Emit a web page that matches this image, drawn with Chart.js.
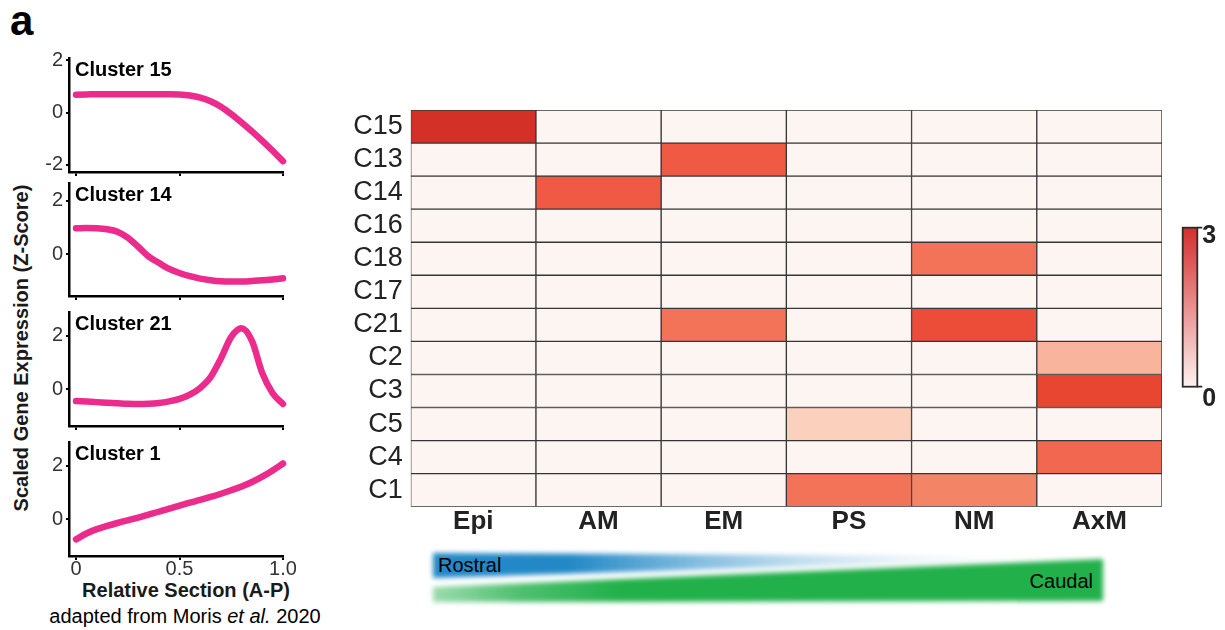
<!DOCTYPE html>
<html>
<head>
<meta charset="utf-8">
<script src="https://cdn.jsdelivr.net/npm/chart.js@4.4.1/dist/chart.umd.min.js"></script>
<style>
  html, body { margin: 0; padding: 0; background: #fff; }
  body { width: 1225px; height: 630px; position: relative; overflow: hidden;
         font-family: "Liberation Sans", Arial, sans-serif; }
  canvas { position: absolute; }
  .txt { position: absolute; white-space: nowrap; line-height: 1; color: #000; }
  .blur { position: absolute; left: 0; top: 0; width: 1225px; height: 630px; filter: blur(2.5px); }
  .band { position: absolute; left: 0; top: 0; width: 1225px; height: 630px; }
</style>
</head>
<body>

<div class="txt" style="left:10px;top:0px;font-size:42px;font-weight:bold;">a</div>
<div class="txt" style="left:21px;top:348px;font-size:20px;font-weight:bold;color:#1a1a1a;transform:translate(-50%,-50%) rotate(-90deg);">Scaled Gene Expression (Z-Score)</div>
<div class="txt" style="left:186px;top:580px;font-size:20px;font-weight:bold;color:#1a1a1a;transform:translateX(-50%);">Relative Section (A-P)</div>
<div class="txt" style="left:185px;top:606px;font-size:20px;transform:translateX(-50%);">adapted from Moris <i>et al.</i> 2020</div>

<!-- rostral / caudal gradient wedges -->
<div class="blur">
  <div class="band" style="clip-path:polygon(433px 553px, 1000px 556px, 1000px 560px, 433px 578px);
       background:linear-gradient(to right, rgba(35,137,198,0) 0px, rgba(35,137,198,0) 433px, rgba(35,137,198,1) 433px, rgba(35,137,198,1) 570px, rgba(35,137,198,0.55) 700px, rgba(35,137,198,0.28) 800px, rgba(35,137,198,0.1) 900px, rgba(35,137,198,0) 1000px);"></div>
  <div class="band" style="clip-path:polygon(433px 587px, 1103px 559px, 1103px 601px, 433px 602px);
       background:linear-gradient(to right, rgba(34,176,75,0) 0px, rgba(34,176,75,0.45) 433px, rgba(34,176,75,0.8) 520px, rgba(34,176,75,1) 620px, rgba(34,176,75,1) 1225px);"></div>
</div>
<div class="txt" style="left:438px;top:555px;font-size:20px;">Rostral</div>
<div class="txt" style="right:132px;top:571px;font-size:20px;">Caudal</div>

<canvas id="p0" width="300" height="172"></canvas>
<canvas id="p1" width="300" height="171"></canvas>
<canvas id="p2" width="300" height="172"></canvas>
<canvas id="p3" width="300" height="172"></canvas>
<canvas id="heat" width="895" height="460"></canvas>

<script>
// ---- expression profiles along the anterior-posterior axis ----
const relPos    = [0, 0.05, 0.1, 0.15, 0.2, 0.25, 0.3, 0.35, 0.4, 0.45, 0.5, 0.55, 0.6, 0.65, 0.7, 0.75, 0.8, 0.85, 0.9, 0.95, 1.0];
const cluster15 = [0.68, 0.69, 0.70, 0.70, 0.70, 0.70, 0.70, 0.70, 0.70, 0.70, 0.69, 0.65, 0.57, 0.43, 0.22, -0.06, -0.38, -0.72, -1.08, -1.46, -1.86];
const cluster14 = [0.97, 0.98, 0.97, 0.93, 0.84, 0.62, 0.28, -0.08, -0.32, -0.55, -0.70, -0.82, -0.91, -0.97, -1.01, -1.02, -1.02, -1.00, -0.97, -0.94, -0.90];
const cluster21 = [-0.44, -0.46, -0.48, -0.50, -0.52, -0.54, -0.55, -0.54, -0.51, -0.45, -0.36, -0.20, 0.05, 0.45, 1.15, 1.95, 2.27, 1.80, 0.60, -0.15, -0.55];
const cluster1  = [-0.75, -0.53, -0.37, -0.25, -0.14, -0.04, 0.06, 0.17, 0.28, 0.40, 0.51, 0.62, 0.72, 0.83, 0.95, 1.08, 1.22, 1.39, 1.59, 1.82, 2.08];

const panelTitles  = ['Cluster 15', 'Cluster 14', 'Cluster 21', 'Cluster 1'];
const panelSeries  = [cluster15, cluster14, cluster21, cluster1];
const panelYTicks  = [[-2, 0, 2], [0, 2], [0, 2], [0, 2]];
const panelYRange  = [[-2.27, 2.08], [-1.56, 2.66], [-1.37, 2.88], [-1.37, 2.88]];
const xTickValues  = [0, 0.5, 1];
const xTickLabels  = ['0', '0.5', '1.0'];

// ---- heatmap: cluster x stage ----
const clusters = ['C15', 'C13', 'C14', 'C16', 'C18', 'C17', 'C21', 'C2', 'C3', 'C5', 'C4', 'C1'];
const stages   = ['Epi', 'AM', 'EM', 'PS', 'NM', 'AxM'];
const epi = [3.0, 0, 0, 0, 0, 0, 0, 0, 0, 0, 0, 0];
const am  = [0, 0, 2.3, 0, 0, 0, 0, 0, 0, 0, 0, 0];
const em  = [0, 2.3, 0, 0, 0, 0, 2.0, 0, 0, 0, 0, 0];
const ps  = [0, 0, 0, 0, 0, 0, 0, 0, 0, 0.6, 0, 2.0];
const nm  = [0, 0, 0, 0, 2.0, 0, 2.5, 0, 0, 0, 0, 1.7];
const axm = [0, 0, 0, 0, 0, 0, 0, 1.0, 2.6, 0, 2.15, 0];
const stageValues = [epi, am, em, ps, nm, axm];
const scaleMin = 0, scaleMax = 3;

// ---------------------------------------------------------------
Chart.defaults.font.family = '"Liberation Sans", Arial, sans-serif';
Chart.defaults.animation = false;

const FONT = '"Liberation Sans", Arial, sans-serif';
const PINK = '#ec2c8c';

// pixel frames of the four profile panels (plot area top/bottom)
const panelFrames = [
  { top: 58, bottom: 172 },
  { top: 183, bottom: 296 },
  { top: 312, bottom: 426 },
  { top: 442, bottom: 556 }
];
const PAD_TOP = 14, X_AXIS_H = 44, Y_AXIS_W = 69, PANEL_W = 300, PLOT_RIGHT = 283;

const panelTitlePlugin = {
  id: 'panelTitle',
  afterDraw(chart, args, opts) {
    const { ctx, chartArea } = chart;
    ctx.save();
    ctx.font = 'bold 20px ' + FONT;
    ctx.fillStyle = '#000';
    ctx.textBaseline = 'alphabetic';
    ctx.textAlign = 'left';
    ctx.fillText(opts.text, chartArea.left + 6, chartArea.top + 18);
    ctx.restore();
  }
};

panelSeries.forEach((series, i) => {
  const frame = panelFrames[i];
  const cv = document.getElementById('p' + i);
  const h = PAD_TOP + (frame.bottom - frame.top) + X_AXIS_H;
  cv.height = h;
  cv.style.left = '0px';
  cv.style.top = (frame.top - PAD_TOP) + 'px';
  const isBottom = i === panelSeries.length - 1;

  new Chart(cv, {
    type: 'line',
    data: {
      datasets: [{
        data: relPos.map((x, k) => ({ x: x, y: series[k] })),
        borderColor: PINK,
        borderWidth: 6.5,
        borderCapStyle: 'round',
        borderJoinStyle: 'round',
        pointRadius: 0,
        cubicInterpolationMode: 'monotone',
        clip: false
      }]
    },
    options: {
      responsive: false,
      layout: { autoPadding: false, padding: { top: PAD_TOP, left: 0, right: PANEL_W - PLOT_RIGHT, bottom: 0 } },
      plugins: { legend: { display: false }, tooltip: { enabled: false }, panelTitle: { text: panelTitles[i] } },
      scales: {
        x: {
          type: 'linear',
          min: -0.034, max: 1.0,
          afterBuildTicks: (axis) => { axis.ticks = xTickValues.map(v => ({ value: v })); },
          afterFit: (axis) => { axis.height = X_AXIS_H; axis.paddingLeft = 0; axis.paddingRight = 0; },
          ticks: {
            display: isBottom,
            autoSkip: false, maxRotation: 0,
            padding: -3,
            color: '#333',
            font: { size: 20 },
            callback: (v) => xTickLabels[xTickValues.indexOf(v)]
          },
          grid: { display: true, drawOnChartArea: false, drawTicks: true, tickLength: 4, color: '#000', lineWidth: 2 },
          border: { display: true, color: '#000', width: 2.5 }
        },
        y: {
          type: 'linear',
          min: panelYRange[i][0], max: panelYRange[i][1],
          afterBuildTicks: (axis) => { axis.ticks = panelYTicks[i].map(v => ({ value: v })); },
          afterFit: (axis) => { axis.width = Y_AXIS_W; axis.paddingTop = 0; axis.paddingBottom = 0; },
          ticks: { padding: 3, color: '#333', font: { size: 20 }, callback: (v) => String(v) },
          grid: { display: true, drawOnChartArea: false, drawTicks: true, tickLength: 3, color: '#000', lineWidth: 2 },
          border: { display: true, color: '#000', width: 2.5 }
        }
      }
    },
    plugins: [panelTitlePlugin]
  });
});

// ---- heatmap ----
const colorStops = [
  [0.0, [253, 245, 242]],
  [0.6, [251, 208, 189]],
  [1.0, [248, 180, 156]],
  [1.7, [244, 132, 102]],
  [2.0, [243, 115, 89]],
  [2.3, [240, 90, 68]],
  [2.6, [233, 70, 50]],
  [3.0, [211, 48, 39]]
];
function cellColor(v) {
  if (v <= colorStops[0][0]) return 'rgb(' + colorStops[0][1].join(',') + ')';
  for (let k = 1; k < colorStops.length; k++) {
    const [v1, c1] = colorStops[k];
    const [v0, c0] = colorStops[k - 1];
    if (v <= v1) {
      const t = (v - v0) / (v1 - v0);
      const c = c0.map((a, j) => Math.round(a + (c1[j] - a) * t));
      return 'rgb(' + c.join(',') + ')';
    }
  }
  return 'rgb(' + colorStops[colorStops.length - 1][1].join(',') + ')';
}

const HEAT_LEFT = 330, HEAT_TOP = 90, HEAT_W = 895, HEAT_H = 460;
const heatCanvas = document.getElementById('heat');
heatCanvas.style.left = HEAT_LEFT + 'px';
heatCanvas.style.top = HEAT_TOP + 'px';

const colorbarPlugin = {
  id: 'colorbar',
  afterDraw(chart) {
    const { ctx, chartArea } = chart;
    const x0 = chartArea.right + 20.7, w = 14.6;
    const yTop = chartArea.top + 117.7, yBot = chartArea.top + 276.7;
    ctx.save();
    const g = ctx.createLinearGradient(0, yTop, 0, yBot);
    g.addColorStop(0, '#d42e2e');
    g.addColorStop(1, '#fdf2f0');
    ctx.fillStyle = g;
    ctx.fillRect(x0, yTop, w, yBot - yTop);
    ctx.strokeStyle = '#2b2b2b';
    ctx.lineWidth = 1.8;
    ctx.strokeRect(x0, yTop, w, yBot - yTop);
    ctx.beginPath();
    ctx.moveTo(x0 + w, yTop); ctx.lineTo(x0 + w + 5, yTop);
    ctx.moveTo(x0 + w, yBot); ctx.lineTo(x0 + w + 5, yBot);
    ctx.stroke();
    ctx.fillStyle = '#222';
    ctx.font = 'bold 25px ' + FONT;
    ctx.textAlign = 'left';
    ctx.textBaseline = 'alphabetic';
    ctx.fillText(String(scaleMax), x0 + w + 5, yTop + 15);
    ctx.fillText(String(scaleMin), x0 + w + 5, yBot + 19);
    ctx.restore();
  }
};

new Chart(heatCanvas, {
  type: 'bar',
  data: {
    labels: clusters,
    datasets: stageValues.map((vals, c) => ({
      label: stages[c],
      data: vals.map(() => [c, c + 1]),
      backgroundColor: vals.map(cellColor),
      borderColor: '#363636',
      borderWidth: 1,
      borderSkipped: false,
      grouped: false,
      barPercentage: 1,
      categoryPercentage: 1
    }))
  },
  options: {
    responsive: false,
    indexAxis: 'y',
    layout: { autoPadding: false, padding: { top: 20, left: 0, right: HEAT_W - 832, bottom: HEAT_H - 416.7 - 40 } },
    plugins: { legend: { display: false }, tooltip: { enabled: false } },
    scales: {
      y: {
        type: 'category',
        afterFit: (axis) => { axis.width = 80.7; axis.paddingTop = 0; axis.paddingBottom = 0; },
        ticks: { autoSkip: false, padding: 8, color: '#222', font: { size: 27 } },
        grid: { display: false, drawTicks: false },
        border: { display: false }
      },
      x: {
        type: 'linear',
        min: 0, max: stages.length,
        afterBuildTicks: (axis) => { axis.ticks = stages.map((s, c) => ({ value: c + 0.5 })); },
        afterFit: (axis) => { axis.height = 40; axis.paddingLeft = 0; axis.paddingRight = 0; },
        ticks: {
          autoSkip: false, maxRotation: 0, padding: 0,
          color: '#222', font: { size: 26, weight: 'bold' },
          callback: (v) => stages[Math.floor(v)]
        },
        grid: { display: false, drawTicks: false },
        border: { display: false }
      }
    }
  },
  plugins: [colorbarPlugin]
});
</script>
</body>
</html>
